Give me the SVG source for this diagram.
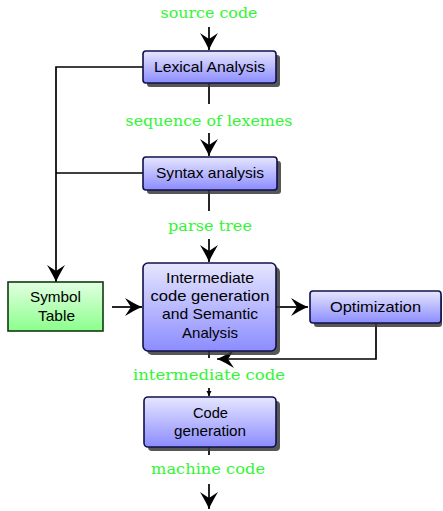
<svg xmlns="http://www.w3.org/2000/svg" width="443" height="511" viewBox="0 0 443 511">
<defs>
<linearGradient id="gb" x1="0" y1="0" x2="0" y2="1">
<stop offset="0" stop-color="#e6e6ff"/>
<stop offset="1" stop-color="#8c8cff"/>
</linearGradient>
<linearGradient id="gg" x1="0" y1="0" x2="0" y2="1">
<stop offset="0" stop-color="#e2ffe2"/>
<stop offset="1" stop-color="#8cff8c"/>
</linearGradient>
<marker id="ah" viewBox="-19 -10 20 20" refX="0" refY="0" markerWidth="20" markerHeight="20" markerUnits="userSpaceOnUse" orient="auto">
<path d="M0,0 C-6,-2.5 -12,-6 -17,-9 L-11,0 L-17,9 C-12,6 -6,2.5 0,0 Z" fill="#000"/>
</marker>
<marker id="sm" viewBox="-5 -3 5 6" refX="0" refY="0" markerWidth="5" markerHeight="6" markerUnits="userSpaceOnUse" orient="auto">
<path d="M0,0 L-5,-2.5 L-5,2.5 Z" fill="#000"/>
</marker>
</defs>
<style>
.box{fill:url(#gb);stroke:#10104a;stroke-width:1.6}
.sh{fill:#3a3a3a;opacity:0.85}
.sym{fill:url(#gg);stroke:#0f3a0f;stroke-width:1.6}
.t{font-family:"Liberation Sans",Arial,sans-serif;font-size:14.5px;fill:#000;text-anchor:middle}
.g{font-family:"DejaVu Serif","Liberation Serif",serif;font-size:14.5px;fill:#33f533;text-anchor:middle}
.c{fill:none;stroke:#000;stroke-width:1.7}
.a{marker-end:url(#ah)}
</style>

<g id="connectors">
<line class="c a" x1="209" y1="27" x2="209" y2="50"/>
<line class="c" x1="209" y1="83" x2="209" y2="104"/>
<line class="c a" x1="209" y1="133" x2="209" y2="156"/>
<line class="c" x1="209" y1="190" x2="209" y2="211"/>
<line class="c a" x1="209" y1="239" x2="209" y2="262"/>
<polyline class="c" points="143,67 56,67 56,282" marker-end="url(#ah)"/>
<line class="c" x1="143" y1="173" x2="56" y2="173"/>
<line class="c a" x1="112" y1="307" x2="142" y2="307"/>
<line class="c a" x1="276" y1="307" x2="308" y2="307"/>
<polyline class="c a" points="376,323 376,359 217,359"/>
<line class="c" x1="209" y1="351" x2="209" y2="358"/>
<line class="c" x1="209" y1="388" x2="209" y2="396" marker-end="url(#sm)"/>
<line class="c" x1="209" y1="447" x2="209" y2="455"/>
<line class="c a" x1="209" y1="484" x2="209" y2="509"/>
</g>

<g id="label-source"><text class="g" x="209" y="18" textLength="97" lengthAdjust="spacingAndGlyphs">source code</text></g>
<g id="label-lexemes"><text class="g" x="209" y="126" textLength="167" lengthAdjust="spacingAndGlyphs">sequence of lexemes</text></g>
<g id="label-parse"><text class="g" x="210" y="231" textLength="84" lengthAdjust="spacingAndGlyphs">parse tree</text></g>
<g id="label-intermediate"><text class="g" x="209" y="380" textLength="152" lengthAdjust="spacingAndGlyphs">intermediate code</text></g>
<g id="label-machine"><text class="g" x="208" y="474" textLength="114" lengthAdjust="spacingAndGlyphs">machine code</text></g>

<g id="lexical">
<rect class="sh" x="147" y="55" width="133" height="32" rx="3"/>
<rect class="box" x="143" y="51" width="133" height="32" rx="3"/>
<text class="t" x="209.5" y="72" textLength="111" lengthAdjust="spacingAndGlyphs">Lexical Analysis</text>
</g>
<g id="syntax">
<rect class="sh" x="147" y="161" width="134" height="33" rx="3"/>
<rect class="box" x="143" y="157" width="134" height="33" rx="3"/>
<text class="t" x="210" y="178" textLength="108" lengthAdjust="spacingAndGlyphs">Syntax analysis</text>
</g>
<g id="intermediate">
<rect class="sh" x="147" y="267" width="133" height="88" rx="5"/>
<rect class="box" x="143" y="263" width="133" height="88" rx="5"/>
<text class="t" x="210" y="283" textLength="88" lengthAdjust="spacingAndGlyphs">Intermediate</text>
<text class="t" x="210" y="301" textLength="119" lengthAdjust="spacingAndGlyphs">code generation</text>
<text class="t" x="210" y="319" textLength="96" lengthAdjust="spacingAndGlyphs">and Semantic</text>
<text class="t" x="210" y="338" textLength="56" lengthAdjust="spacingAndGlyphs">Analysis</text>
</g>
<g id="symbol">
<rect class="sym" x="8" y="282" width="95" height="49"/>
<text class="t" x="55.5" y="302" textLength="51" lengthAdjust="spacingAndGlyphs">Symbol</text>
<text class="t" x="56.5" y="321" textLength="37" lengthAdjust="spacingAndGlyphs">Table</text>
</g>
<g id="optimization">
<rect class="sh" x="314" y="295" width="128" height="32" rx="3"/>
<rect class="box" x="310" y="291" width="131" height="32" rx="3"/>
<text class="t" x="375.5" y="312" textLength="91" lengthAdjust="spacingAndGlyphs">Optimization</text>
</g>
<g id="codegen">
<rect class="sh" x="148" y="401" width="132" height="50" rx="4"/>
<rect class="box" x="144" y="397" width="132" height="50" rx="4"/>
<text class="t" x="210.5" y="418" textLength="35" lengthAdjust="spacingAndGlyphs">Code</text>
<text class="t" x="210" y="436" textLength="72" lengthAdjust="spacingAndGlyphs">generation</text>
</g>
</svg>
